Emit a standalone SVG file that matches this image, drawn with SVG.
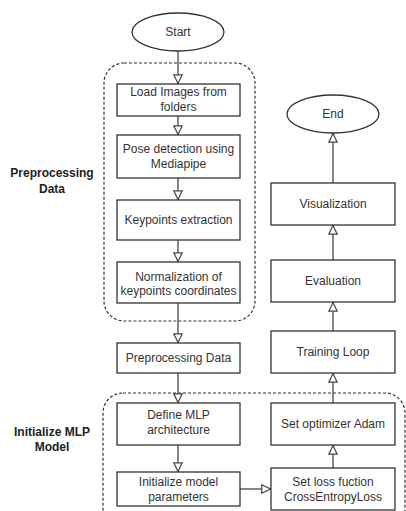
<svg xmlns="http://www.w3.org/2000/svg" width="406" height="511" viewBox="0 0 406 511">
<defs>
<style>
.box{fill:#fff;stroke:#333;stroke-width:1.3}
.grp{fill:none;stroke:#333;stroke-width:1.2;stroke-dasharray:3 2}
.t{font-family:"Liberation Sans",Arial,sans-serif;font-size:12px;fill:#333;text-anchor:middle}
.lb{font-family:"Liberation Sans",Arial,sans-serif;font-size:12px;font-weight:bold;fill:#222;text-anchor:middle}
.c{fill:none;stroke:#444;stroke-width:1.3}
</style>
<marker id="ah" viewBox="0 0 10 10" refX="10" refY="5" markerWidth="10" markerHeight="10" markerUnits="userSpaceOnUse" orient="auto">
<path d="M0.8,0.8 L9.5,5 L0.8,9.2 z" fill="#fff" stroke="#444" stroke-width="1.2"/>
</marker>
</defs>
<rect width="406" height="511" fill="#fff"/>
<g id="groups">
<rect class="grp" x="104" y="63" width="151" height="258" rx="20"/>
<rect class="grp" x="103" y="393" width="302" height="150" rx="20"/>
<text class="lb" x="52" y="177">Preprocessing</text>
<text class="lb" x="52" y="193">Data</text>
<text class="lb" x="52" y="436">Initialize MLP</text>
<text class="lb" x="52" y="451">Model</text>
</g>
<g id="connectors">
<line class="c" x1="178" y1="51" x2="178" y2="84" marker-end="url(#ah)"/>
<line class="c" x1="178" y1="116" x2="178" y2="135" marker-end="url(#ah)"/>
<line class="c" x1="178" y1="178" x2="178" y2="200" marker-end="url(#ah)"/>
<line class="c" x1="178" y1="240" x2="178" y2="262" marker-end="url(#ah)"/>
<line class="c" x1="178" y1="303" x2="178" y2="343" marker-end="url(#ah)"/>
<line class="c" x1="178" y1="373" x2="178" y2="403" marker-end="url(#ah)"/>
<line class="c" x1="178" y1="445" x2="178" y2="472" marker-end="url(#ah)"/>
<line class="c" x1="240" y1="489" x2="271" y2="489" marker-end="url(#ah)"/>
<line class="c" x1="333" y1="468" x2="333" y2="445" marker-end="url(#ah)"/>
<line class="c" x1="333" y1="403" x2="333" y2="373" marker-end="url(#ah)"/>
<line class="c" x1="333" y1="331" x2="333" y2="302" marker-end="url(#ah)"/>
<line class="c" x1="333" y1="260" x2="333" y2="225" marker-end="url(#ah)"/>
<line class="c" x1="333" y1="183" x2="333" y2="133" marker-end="url(#ah)"/>
</g>
<g id="start"><ellipse class="box" cx="178" cy="32" rx="46" ry="19"/><text class="t" x="178" y="36">Start</text></g>
<g id="load"><rect class="box" x="117" y="84" width="123" height="32"/><text class="t" x="178.5" y="96">Load Images from</text><text class="t" x="178.5" y="111">folders</text></g>
<g id="pose"><rect class="box" x="117" y="135" width="123" height="43"/><text class="t" x="178.5" y="153">Pose detection using</text><text class="t" x="178.5" y="168">Mediapipe</text></g>
<g id="keypoints"><rect class="box" x="117" y="200" width="123" height="40"/><text class="t" x="178.5" y="224">Keypoints extraction</text></g>
<g id="normalization"><rect class="box" x="117" y="262" width="123" height="41"/><text class="t" x="178.5" y="281">Normalization of</text><text class="t" x="178.5" y="295">keypoints coordinates</text></g>
<g id="preprocessing"><rect class="box" x="117" y="343" width="123" height="30"/><text class="t" x="178.5" y="362">Preprocessing Data</text></g>
<g id="define"><rect class="box" x="117" y="403" width="123" height="42"/><text class="t" x="178.5" y="419">Define MLP</text><text class="t" x="178.5" y="434">architecture</text></g>
<g id="init"><rect class="box" x="117" y="472" width="123" height="34"/><text class="t" x="178.5" y="486">Initialize model</text><text class="t" x="178.5" y="501">parameters</text></g>
<g id="loss"><rect class="box" x="271" y="468" width="124" height="42"/><text class="t" x="333" y="486">Set loss fuction</text><text class="t" x="333" y="501">CrossEntropyLoss</text></g>
<g id="optimizer"><rect class="box" x="271" y="403" width="124" height="42"/><text class="t" x="333" y="428">Set optimizer Adam</text></g>
<g id="training"><rect class="box" x="271" y="331" width="124" height="42"/><text class="t" x="333" y="356">Training Loop</text></g>
<g id="evaluation"><rect class="box" x="271" y="260" width="124" height="42"/><text class="t" x="333" y="285">Evaluation</text></g>
<g id="visualization"><rect class="box" x="271" y="183" width="124" height="42"/><text class="t" x="333" y="208">Visualization</text></g>
<g id="end"><ellipse class="box" cx="333" cy="114" rx="46" ry="19"/><text class="t" x="333" y="118">End</text></g>
</svg>
